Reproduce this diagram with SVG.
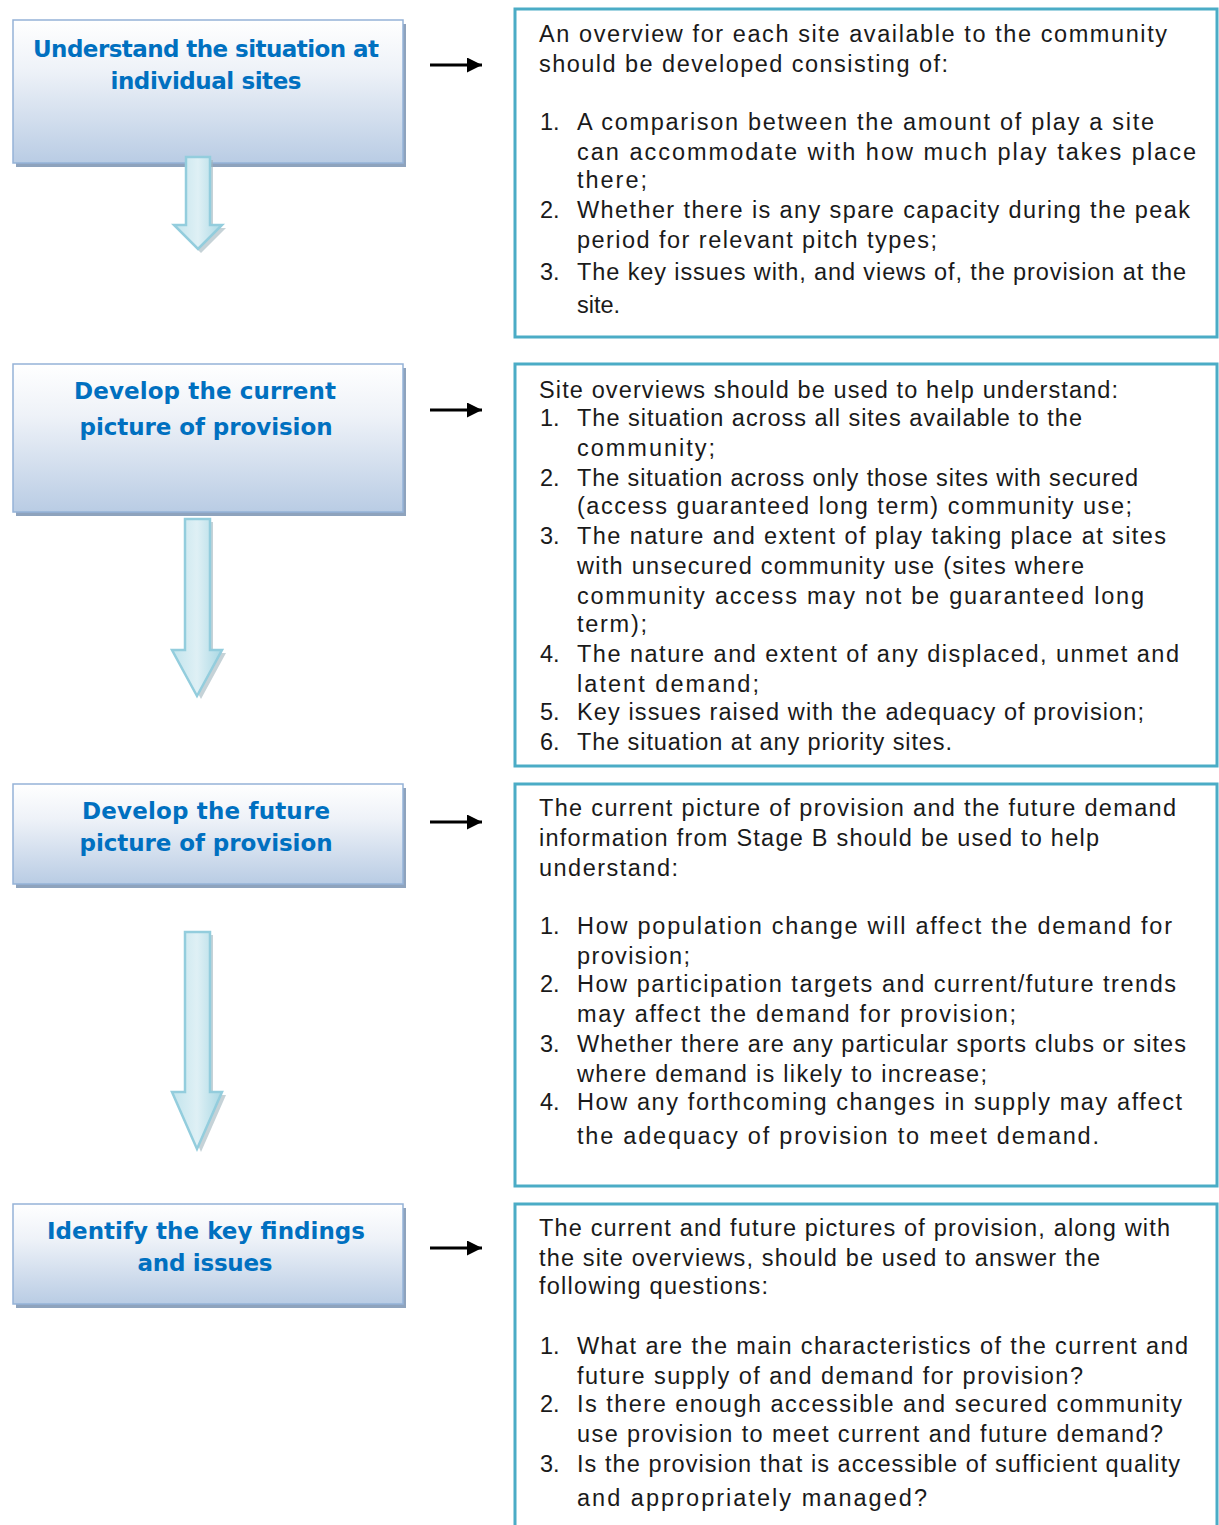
<svg xmlns="http://www.w3.org/2000/svg" width="1219" height="1525" viewBox="0 0 1219 1525">
<style>
.lb{stroke:#95b3d7;stroke-width:1.5;fill:url(#lg)}
.sh{fill:#8ea3bd}
.lt{font-family:"DejaVu Sans",Verdana,sans-serif;font-weight:bold;font-size:23px;fill:#0070c0;text-anchor:middle}
.rb{fill:#fff;stroke:#4bacc6;stroke-width:3}
.t{font-family:"Liberation Sans",Arial,sans-serif;font-size:23.5px;fill:#1a1a1a}
.ba{stroke:#000;stroke-width:3;fill:none}
.da{fill:url(#ag);stroke:#93cddd;stroke-width:2.5;stroke-linejoin:miter}
.das{fill:#9fb4bd;opacity:0.6}
</style>
<defs>
<linearGradient id="lg" x1="0" y1="0" x2="0" y2="1">
<stop offset="0" stop-color="#ffffff"/>
<stop offset="0.35" stop-color="#eef2f8"/>
<stop offset="1" stop-color="#b9cce4"/>
</linearGradient>
<linearGradient id="ag" x1="0" y1="0" x2="1" y2="0">
<stop offset="0" stop-color="#c2e4ec"/>
<stop offset="0.5" stop-color="#dff0f5"/>
<stop offset="1" stop-color="#a9d8e4"/>
</linearGradient>
<marker id="ah" viewBox="0 0 10 10" refX="10" refY="5" markerWidth="5" markerHeight="5" orient="auto" markerUnits="strokeWidth">
<path d="M0,0 L10,5 L0,10 z" fill="#000"/>
</marker>
</defs>

<g id="step1">
<rect class="sh" x="16" y="24" width="390" height="143"/>
<rect class="lb" x="13" y="20" width="390" height="143"/>
<text class="lt" x="206" y="57" textLength="346">Understand the situation at</text>
<text class="lt" x="206" y="89" textLength="191">individual sites</text>
</g>
<g id="step2">
<rect class="sh" x="16" y="368" width="390" height="148"/>
<rect class="lb" x="13" y="364" width="390" height="148"/>
<text class="lt" x="205" y="399" textLength="262">Develop the current</text>
<text class="lt" x="206" y="435" textLength="253">picture of provision</text>
</g>
<g id="step3">
<rect class="sh" x="16" y="788" width="390" height="100"/>
<rect class="lb" x="13" y="784" width="390" height="100"/>
<text class="lt" x="206" y="819" textLength="248">Develop the future</text>
<text class="lt" x="206" y="851" textLength="253">picture of provision</text>
</g>
<g id="step4">
<rect class="sh" x="16" y="1208" width="390" height="100"/>
<rect class="lb" x="13" y="1204" width="390" height="100"/>
<text class="lt" x="206" y="1239" textLength="318">Identify the key findings</text>
<text class="lt" x="205" y="1271" textLength="135">and issues</text>
</g>

<g id="connectors">
<path class="das" d="M189,160 h24 v68 h13 l-25,25 l-25,-25 h13 z"/>
<path class="da" d="M186,157 h24 v68 h12 l-24,24 l-24,-24 h12 z"/>
<path class="das" d="M188,522 h25 v131 h13 l-25,46 l-25,-46 h12 z"/>
<path class="da" d="M185,519 h25 v131 h12 l-25,46 l-25,-46 h13 z"/>
<path class="das" d="M188,935 h25 v160 h13 l-25,57 l-25,-57 h12 z"/>
<path class="da" d="M185,932 h25 v160 h12 l-25,57 l-25,-57 h13 z"/>
<line class="ba" x1="430" y1="65" x2="482" y2="65" marker-end="url(#ah)"/>
<line class="ba" x1="430" y1="410" x2="482" y2="410" marker-end="url(#ah)"/>
<line class="ba" x1="430" y1="822" x2="482" y2="822" marker-end="url(#ah)"/>
<line class="ba" x1="430" y1="1248" x2="482" y2="1248" marker-end="url(#ah)"/>
</g>

<g id="detail1">
<rect class="rb" x="515" y="9" width="702" height="328"/>
<text class="t" x="539" y="42" textLength="628">An overview for each site available to the community</text>
<text class="t" x="539" y="72" textLength="409">should be developed consisting of:</text>
<text class="t" x="540" y="130">1.</text>
<text class="t" x="577" y="130" textLength="577">A comparison between the amount of play a site</text>
<text class="t" x="577" y="160" textLength="619">can accommodate with how much play takes place</text>
<text class="t" x="577" y="188" textLength="70">there;</text>
<text class="t" x="540" y="218">2.</text>
<text class="t" x="577" y="218" textLength="613">Whether there is any spare capacity during the peak</text>
<text class="t" x="577" y="248" textLength="360">period for relevant pitch types;</text>
<text class="t" x="540" y="280">3.</text>
<text class="t" x="577" y="280" textLength="609">The key issues with, and views of, the provision at the</text>
<text class="t" x="577" y="313">site.</text>
</g>

<g id="detail2">
<rect class="rb" x="515" y="364" width="702" height="402"/>
<text class="t" x="539" y="398" textLength="579">Site overviews should be used to help understand:</text>
<text class="t" x="540" y="426">1.</text>
<text class="t" x="577" y="426" textLength="505">The situation across all sites available to the</text>
<text class="t" x="577" y="456" textLength="138">community;</text>
<text class="t" x="540" y="486">2.</text>
<text class="t" x="577" y="486" textLength="561">The situation across only those sites with secured</text>
<text class="t" x="577" y="514" textLength="555">(access guaranteed long term) community use;</text>
<text class="t" x="540" y="544">3.</text>
<text class="t" x="577" y="544" textLength="589">The nature and extent of play taking place at sites</text>
<text class="t" x="577" y="574" textLength="507">with unsecured community use (sites where</text>
<text class="t" x="577" y="604" textLength="567">community access may not be guaranteed long</text>
<text class="t" x="577" y="632" textLength="70">term);</text>
<text class="t" x="540" y="662">4.</text>
<text class="t" x="577" y="662" textLength="602">The nature and extent of any displaced, unmet and</text>
<text class="t" x="577" y="692" textLength="182">latent demand;</text>
<text class="t" x="540" y="720">5.</text>
<text class="t" x="577" y="720" textLength="567">Key issues raised with the adequacy of provision;</text>
<text class="t" x="540" y="750">6.</text>
<text class="t" x="577" y="750" textLength="375">The situation at any priority sites.</text>
</g>

<g id="detail3">
<rect class="rb" x="515" y="784" width="702" height="402"/>
<text class="t" x="539" y="816" textLength="637">The current picture of provision and the future demand</text>
<text class="t" x="539" y="846" textLength="560">information from Stage B should be used to help</text>
<text class="t" x="539" y="876" textLength="139">understand:</text>
<text class="t" x="540" y="934">1.</text>
<text class="t" x="577" y="934" textLength="595">How population change will affect the demand for</text>
<text class="t" x="577" y="964" textLength="113">provision;</text>
<text class="t" x="540" y="992">2.</text>
<text class="t" x="577" y="992" textLength="599">How participation targets and current/future trends</text>
<text class="t" x="577" y="1022" textLength="439">may affect the demand for provision;</text>
<text class="t" x="540" y="1052">3.</text>
<text class="t" x="577" y="1052" textLength="609">Whether there are any particular sports clubs or sites</text>
<text class="t" x="577" y="1082" textLength="410">where demand is likely to increase;</text>
<text class="t" x="540" y="1110">4.</text>
<text class="t" x="577" y="1110" textLength="605">How any forthcoming changes in supply may affect</text>
<text class="t" x="577" y="1144" textLength="522">the adequacy of provision to meet demand.</text>
</g>

<g id="detail4">
<rect class="rb" x="515" y="1204" width="702" height="340"/>
<text class="t" x="539" y="1236" textLength="631">The current and future pictures of provision, along with</text>
<text class="t" x="539" y="1266" textLength="561">the site overviews, should be used to answer the</text>
<text class="t" x="539" y="1294" textLength="229">following questions:</text>
<text class="t" x="540" y="1354">1.</text>
<text class="t" x="577" y="1354" textLength="611">What are the main characteristics of the current and</text>
<text class="t" x="577" y="1384" textLength="506">future supply of and demand for provision?</text>
<text class="t" x="540" y="1412">2.</text>
<text class="t" x="577" y="1412" textLength="605">Is there enough accessible and secured community</text>
<text class="t" x="577" y="1442" textLength="586">use provision to meet current and future demand?</text>
<text class="t" x="540" y="1472">3.</text>
<text class="t" x="577" y="1472" textLength="603">Is the provision that is accessible of sufficient quality</text>
<text class="t" x="577" y="1506" textLength="350">and appropriately managed?</text>
</g>
</svg>
